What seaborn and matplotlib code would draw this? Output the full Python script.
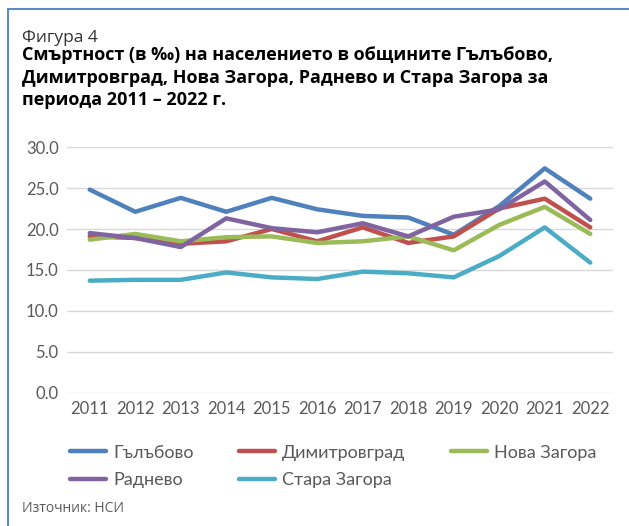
import pandas as pd
import matplotlib
matplotlib.use("Agg")
import matplotlib.pyplot as plt
import seaborn as sns

# Данни: смъртност (в ‰) по общини, 2011-2022
godini = list(range(2011, 2023))
galabovo = [24.8, 22.1, 23.8, 22.1, 23.8, 22.4, 21.6, 21.4, 19.3, 22.8, 27.4, 23.7]
dimitrovgrad = [19.1, 18.9, 18.2, 18.5, 20.0, 18.5, 20.2, 18.3, 19.1, 22.5, 23.7, 20.2]
nova_zagora = [18.7, 19.4, 18.5, 19.0, 19.1, 18.3, 18.5, 19.1, 17.4, 20.5, 22.7, 19.4]
radnevo = [19.5, 18.9, 17.8, 21.3, 20.1, 19.6, 20.7, 19.1, 21.5, 22.4, 25.8, 21.1]
stara_zagora = [13.7, 13.8, 13.8, 14.7, 14.1, 13.9, 14.8, 14.6, 14.1, 16.7, 20.2, 15.9]

obshtini = ["Гълъбово", "Димитровград", "Нова Загора", "Раднево", "Стара Загора"]
cveta = ["#4F81BD", "#C0504D", "#9BBB59", "#8064A2", "#4BACC6"]

df = pd.DataFrame({
    "Година": godini * 5,
    "Община": [o for o in obshtini for _ in godini],
    "Смъртност": galabovo + dimitrovgrad + nova_zagora + radnevo + stara_zagora,
})

sns.set_style("white")
plt.rcParams["font.family"] = ["Lato", "DejaVu Sans"]

fig = plt.figure(figsize=(6.29, 5.26), dpi=100)
ax = fig.add_axes([0.1065, 0.2529, 0.8681, 0.4676])

sns.lineplot(data=df, x="Година", y="Смъртност", hue="Община", palette=cveta,
             linewidth=3.2, ax=ax, legend=True)

ax.set_xlim(2010.5, 2022.5)
ax.set_ylim(0, 30)
ax.set_xticks(godini)
ax.set_xticklabels([str(g) for g in godini])
ax.set_yticks([0, 5, 10, 15, 20, 25, 30])
ax.set_yticklabels([f"{v:.1f}" for v in [0, 5, 10, 15, 20, 25, 30]])
ax.tick_params(axis="both", length=0, labelsize=12, colors="#595959")
ax.tick_params(axis="y", pad=6)
ax.tick_params(axis="x", pad=6)
ax.grid(axis="y", color="#D9D9D9", linewidth=1.0)
ax.set_axisbelow(True)
ax.set_xlabel("")
ax.set_ylabel("")
sns.despine(ax=ax, left=True, bottom=True)

handles, labels = ax.get_legend_handles_labels()
ax.get_legend().remove()
# редовете се пълнят отляво надясно
red = [0, 3, 1, 4, 2]
leg = fig.legend([handles[i] for i in red], [labels[i] for i in red],
                 loc="upper left", bbox_to_anchor=(0.097, 0.172),
                 ncol=3, frameon=False, fontsize=13, handlelength=2.0,
                 handletextpad=0.4, columnspacing=2.5, borderpad=0,
                 labelspacing=0.65)
for t in leg.get_texts():
    t.set_color("#595959")

# Заглавие
fig.text(22 / 629, 1 - 30 / 526, "Фигура 4", fontsize=12.5, color="#333333",
         family=["Open Sans", "DejaVu Sans"], va="top", ha="left")
fig.text(22 / 629, 1 - 46 / 526,
         "Смъртност (в ‰) на населението в общините Гълъбово,\n"
         "Димитровград, Нова Загора, Раднево и Стара Загора за\n"
         "периода 2011 – 2022 г.",
         fontsize=13, fontweight="bold", color="black",
         family=["Open Sans", "DejaVu Sans"], va="top", ha="left", linespacing=1.33)
fig.text(22 / 629, 1 - 508 / 526, "Източник: НСИ", fontsize=10, color="#595959",
         family=["Open Sans", "DejaVu Sans"], va="center", ha="left")

# Рамка
fig.add_artist(plt.Line2D([8 / 629, 8 / 629], [0, 1 - 9 / 526], color="#5B8BC9",
                          linewidth=1.5, transform=fig.transFigure))
fig.add_artist(plt.Line2D([8 / 629, 1], [1 - 9 / 526, 1 - 9 / 526], color="#5B8BC9",
                          linewidth=1.5, transform=fig.transFigure))

plt.savefig("out.png", dpi=100)
